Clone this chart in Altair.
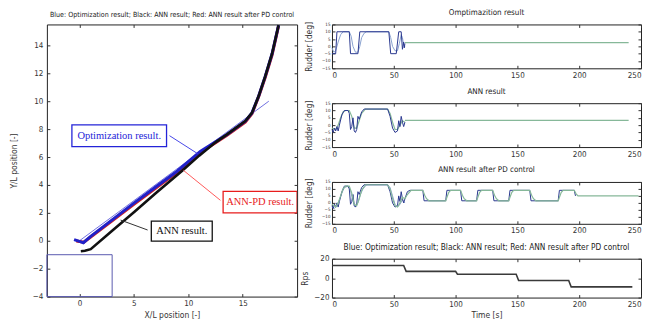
import altair as alt
import pandas as pd

SANS = "Liberation Sans Narrow, DejaVu Sans Condensed, Liberation Sans, Arial, sans-serif"
SERIF = "Liberation Serif, Times New Roman, serif"

# ---------------- left panel: trajectories ----------------
ref_x = [0.0, 17.4]
ref_y = [0.0, 10.0]
opt_x = [-0.5, 0.0, 0.35, 1.0, 3.0, 5.0, 7.0, 9.0, 11.1, 13.56, 15.24, 15.85, 16.46, 17.07, 17.7, 18.3]
opt_y = [0.08, -0.05, -0.14, 0.3, 1.5, 2.7, 3.85, 5.0, 6.4, 7.62, 8.57, 9.16, 10.35, 11.78, 13.4, 15.45]
ann_x = [0.12, 0.5, 1.03, 3.0, 5.0, 7.0, 9.44, 11.0, 12.5, 13.56, 15.24, 15.85, 16.46, 17.07, 17.7, 18.3]
ann_y = [-0.75, -0.72, -0.6, 0.72, 2.05, 3.4, 5.02, 6.1, 7.05, 7.62, 8.57, 9.16, 10.35, 11.78, 13.4, 15.45]
pd_x = [-0.3, 0.4, 1.0, 5.0, 9.0, 11.1, 13.56, 15.24, 15.85, 16.46, 17.07, 17.7, 18.3]
pd_y = [-0.02, -0.1, 0.25, 2.62, 4.92, 6.3, 7.55, 8.5, 9.1, 10.3, 11.7, 13.3, 15.4]

berth_x = [-3.0]
berth_x2 = [3.0]
berth_y = [-4.0]
berth_y2 = [-1.0]

ann_label = ["Optimization result.", "ANN-PD result.", "ANN result."]
ann_color = ["#2424d8", "#e81c1c", "#111111"]
ann_line_color = ["#4848e8", "#ff5a5a", "#333333"]
ann_box_x1 = [-0.7, 13.2, 6.6]
ann_box_x2 = [8.0, 20.0, 12.2]
ann_box_y1 = [6.75, 2.0, -0.02]
ann_box_y2 = [8.31, 3.54, 1.41]
ann_text_x = [3.65, 16.6, 9.4]
ann_text_y = [7.53, 2.77, 0.7]
lead_x1 = [8.27, 12.95, 6.26]
lead_y1 = [7.53, 2.9, 0.77]
lead_x2 = [10.84, 9.56, 3.78]
lead_y2 = [6.25, 5.04, 1.48]

x_ticks = [0, 5, 10, 15]
y_ticks = [-4, -2, 0, 2, 4, 6, 8, 10, 12, 14]

# ---------------- right panels: rudder / rps ----------------
cmd1_t = [0, 3, 4, 14, 15, 21, 22.5, 46, 47.5, 52, 54, 56, 57, 58, 58.5, 59]
cmd1_v = [-5, -5, 10, 10, -5, -5, 10, 10, -5, -5, 10, 10, -2, 3, -1, 2]
act1_t = [0, 1.5, 3, 5, 7, 9, 14, 15.5, 17, 19, 21, 22.5, 24, 26, 28, 46, 47.5, 49, 51, 53, 54.5, 56, 57, 58, 59]
act1_v = [-1, -4, -3, 3, 8, 10, 10, 7, 0, -4, -4, 0, 6, 9, 10, 10, 6, 0, -3, -3, 2, 8, 6, 1, 0]
hold1_t = [59, 240]
hold1_v = [2.5, 2.5]

cmd2_t = [0, 1, 2, 3, 4, 5, 6, 8, 10, 13, 14, 15, 16, 17, 18, 19, 20, 21, 22, 24, 26, 45, 47, 49, 51, 53, 54, 55, 56, 57, 58, 59]
cmd2_v = [-3, -5, -2, -4, -1, -4, 0, 7, 10, 10, 8, -3, -1, 5, -4, -5, -3, 6, 4, 9, 11, 11, 6, -2, -5, -4, 3, -1, 6, 2, -1, 2]
act2_t = [0, 3, 5, 7, 9, 11, 14, 16, 18, 20, 22, 24, 27, 45, 47, 49, 51, 53, 55, 57, 59]
act2_v = [-2, -3, 0, 5, 9, 10, 10, 6, -2, -2, 3, 8, 11, 11, 8, 2, -3, -3, 0, 3, 2]
hold2_t = [59, 240]
hold2_v = [3.3, 3.3]

cmd3_t = [0, 1, 2, 3, 4, 5, 6, 8, 10, 13, 14, 15, 16, 17, 18, 19, 20, 21, 22, 24, 26, 45, 47, 49, 51, 53, 54, 55, 56, 57, 58, 59,
          61, 63, 73.5, 74.5, 92, 93, 104, 105, 117, 118, 130, 131, 143, 144, 160, 161, 183, 184, 196, 197]
cmd3_v = [-2, -4, -1, -3, 0, -3, 1, 8, 12, 12, 10, -1, 1, 6, -2, -3, -1, 8, 6, 11, 13, 13, 8, 0, -3, -2, 5, 1, 8, 3, 0, 3,
          8, 9, 9, 1.5, 1.5, 9, 9, 1.5, 1.5, 9, 9, 1.5, 1.5, 9, 9, 1.5, 1.5, 9, 9, 5]
lt3_t = [0, 2, 4, 6, 8, 10, 13, 15, 17, 19, 21, 23, 25, 28, 45, 47, 49, 51, 53, 55, 57, 59]
lt3_v = [-3, -4, -2, 2, 7, 11, 12, 9, 1, -3, 0, 6, 10, 13, 13, 11, 5, -1, -3, -1, 2, 0]
act3_t = [0, 3, 5, 7, 9, 11, 14, 16, 18, 20, 22, 24, 27, 45, 47, 49, 51, 53, 55, 57, 59, 61, 64,
          73.5, 75, 76.5, 78.5, 92, 93, 94.5, 96, 104, 105.5, 107, 109, 117, 118, 119.5, 121,
          130, 131.5, 133, 135, 143, 144, 145.5, 147, 160, 161.5, 163, 165, 183, 184, 185.5, 187,
          196, 197.5, 199, 248]
act3_v = [-1, -3, 0, 5, 10, 12, 12, 7, -1, -2, 3, 9, 13, 13, 10, 3, -2, -3, 0, 4, 3, 6, 9,
          9, 5.5, 3, 1.5, 1.5, 4, 7.5, 9, 9, 5.5, 3, 1.5, 1.5, 4, 7.5, 9,
          9, 5.5, 3, 1.5, 1.5, 4, 7.5, 9, 9, 5.5, 3, 1.5, 1.5, 4, 7.5, 9,
          9, 6.5, 5, 5]

rps_t = [0, 58, 60, 100, 101.5, 149, 151, 191.5, 193.5, 243]
rps_v = [13, 13, 7, 7, 4, 4, -2.5, -2.5, -9, -9]

t_ticks = [0, 50, 100, 150, 200, 250]
rud_ticks = [-15, -10, -5, 0, 5, 10, 15]
rps_ticks = [-20, 0, 20]

C_CMD = "#2b3990"
C_ACT = "#8aa2cf"
C_HOLD = "#86b899"
FRAME = "#222222"


def mirror_ticks(xscale, yscale, xvals, yvals, x0, y0):
    """Invisible layer carrying the inward ticks of the top and right frame edges."""
    return alt.Chart(pd.DataFrame({"x": [x0], "y": [y0]})).mark_point(opacity=0).encode(
        x=alt.X("x:Q", scale=xscale, axis=alt.Axis(orient="top", values=xvals, labels=False, title=None,
                                                    offset=-3, tickSize=3)),
        y=alt.Y("y:Q", scale=yscale, axis=alt.Axis(orient="right", values=yvals, labels=False, title=None,
                                                    offset=-3, tickSize=3)),
    )


# ---------------- build left chart ----------------
xs = alt.Scale(domain=[-3, 20], nice=False, zero=False)
ys = alt.Scale(domain=[-4, 15.5], nice=False, zero=False)
x_axis = alt.Axis(values=x_ticks, title="X/L position [-]", offset=-3, tickSize=3,
                  labelPadding=3, titlePadding=3)
y_axis = alt.Axis(values=y_ticks, title="Y/L position [-]", offset=-3, tickSize=3,
                  labelPadding=4, titlePadding=14)


def line_df(xv, yv):
    return pd.DataFrame({"x": xv, "y": yv, "k": list(range(len(xv)))})


def traj(xv, yv, color, width):
    return alt.Chart(line_df(xv, yv)).mark_line(color=color, strokeWidth=width, clip=True).encode(
        x=alt.X("x:Q", scale=xs, axis=x_axis),
        y=alt.Y("y:Q", scale=ys, axis=y_axis),
        order="k:Q",
    )


berth = alt.Chart(pd.DataFrame({"x": berth_x, "x2": berth_x2, "y": berth_y, "y2": berth_y2})).mark_rect(
    filled=False, stroke="#5a5ab0", strokeWidth=1
).encode(x=alt.X("x:Q", scale=xs, axis=x_axis), x2="x2:Q", y=alt.Y("y:Q", scale=ys, axis=y_axis), y2="y2:Q")

ann_df = pd.DataFrame({
    "label": ann_label, "c": ann_color, "lc": ann_line_color,
    "bx1": ann_box_x1, "bx2": ann_box_x2, "by1": ann_box_y1, "by2": ann_box_y2,
    "tx": ann_text_x, "ty": ann_text_y,
    "lx1": lead_x1, "ly1": lead_y1, "lx2": lead_x2, "ly2": lead_y2,
})

leaders = alt.Chart(ann_df).mark_rule(strokeWidth=1).encode(
    x=alt.X("lx1:Q", scale=xs, axis=x_axis), x2="lx2:Q",
    y=alt.Y("ly1:Q", scale=ys, axis=y_axis), y2="ly2:Q",
    color=alt.Color("lc:N", scale=None),
)
boxes = alt.Chart(ann_df).mark_rect(fill="white", strokeWidth=1.3, clip=True).encode(
    x=alt.X("bx1:Q", scale=xs, axis=x_axis), x2="bx2:Q",
    y=alt.Y("by1:Q", scale=ys, axis=y_axis), y2="by2:Q",
    stroke=alt.Stroke("c:N", scale=None),
)
texts = alt.Chart(ann_df).mark_text(font=SERIF, fontSize=10.5).encode(
    x=alt.X("tx:Q", scale=xs, axis=x_axis),
    y=alt.Y("ty:Q", scale=ys, axis=y_axis),
    text="label:N",
    color=alt.Color("c:N", scale=None),
)

left_main = alt.layer(
    berth,
    traj(ref_x, ref_y, "#7070e0", 1),
    traj(pd_x, pd_y, "#d02020", 3),
    traj(opt_x, opt_y, "#2020c8", 3.0),
    traj(ann_x, ann_y, "#111111", 2.6),
    leaders, boxes, texts,
)
left = alt.layer(
    left_main, mirror_ticks(xs, ys, x_ticks, y_ticks, 0, 0)
).resolve_axis(x="independent", y="independent").properties(
    width=251, height=273,
    title=alt.TitleParams("Blue: Optimization result; Black: ANN result; Red: ANN result after PD control",
                          fontSize=7.1, offset=6),
)

# ---------------- build right panels ----------------
ts = alt.Scale(domain=[0, 250], nice=False, zero=False)
rud_scale = alt.Scale(domain=[-15, 15], nice=False, zero=False)
rps_scale = alt.Scale(domain=[-20, 20], nice=False, zero=False)


def t_axis(title=None):
    return alt.Axis(values=t_ticks, offset=-3, tickSize=3, labelPadding=3, titlePadding=2, title=title)


rud_axis = alt.Axis(values=rud_ticks, title="Rudder  [deg]", offset=-3, tickSize=3, labelPadding=2,
                    labelFontSize=4.5, titlePadding=8)
rps_axis = alt.Axis(values=rps_ticks, title="Rps", offset=-3, tickSize=3, labelPadding=3, titlePadding=4)


def series(t, v, color, scale, axis, xaxis, w=1.0):
    df = pd.DataFrame({"t": t, "v": v, "k": list(range(len(t)))})
    return alt.Chart(df).mark_line(color=color, strokeWidth=w).encode(
        x=alt.X("t:Q", scale=ts, axis=xaxis),
        y=alt.Y("v:Q", scale=scale, axis=axis),
        order="k:Q",
    )


def panel(title, layers, h, yscale, yvals, fs=8):
    return alt.layer(
        alt.layer(*layers), mirror_ticks(ts, yscale, t_ticks, yvals, 0, 0)
    ).resolve_axis(x="independent", y="independent").properties(
        width=310, height=h, title=alt.TitleParams(title, fontSize=fs, offset=3)
    )


xa = t_axis()
p1 = panel("Omptimazition result", [
    series(act1_t, act1_v, C_ACT, rud_scale, rud_axis, xa),
    series(cmd1_t, cmd1_v, C_CMD, rud_scale, rud_axis, xa),
    series(hold1_t, hold1_v, C_HOLD, rud_scale, rud_axis, xa, 1.3),
], 44, rud_scale, rud_ticks)
p2 = panel("ANN result", [
    series(act2_t, act2_v, C_HOLD, rud_scale, rud_axis, xa, 1.2),
    series(cmd2_t, cmd2_v, C_CMD, rud_scale, rud_axis, xa),
    series(hold2_t, hold2_v, C_HOLD, rud_scale, rud_axis, xa, 1.3),
], 44, rud_scale, rud_ticks)
p3 = panel("ANN result after PD control", [
    series(lt3_t, lt3_v, C_ACT, rud_scale, rud_axis, xa),
    series(cmd3_t, cmd3_v, C_CMD, rud_scale, rud_axis, xa),
    series(act3_t, act3_v, C_HOLD, rud_scale, rud_axis, xa, 1.2),
], 42, rud_scale, rud_ticks)
p4 = panel("Blue: Optimization result; Black: ANN result; Red: ANN result after PD control", [
    series(rps_t, rps_v, "#3a3a3a", rps_scale, rps_axis, t_axis("Time [s]"), 1.6),
], 39, rps_scale, rps_ticks, 8.3)

right = alt.vconcat(p1, p2, p3, p4, spacing=35, bounds="flush")

chart = alt.hconcat(left, right, spacing=35, bounds="flush").properties(
    padding=0
).configure_view(
    stroke=FRAME, strokeWidth=1
).configure_axis(
    grid=False, domain=False, labelFont=SANS, titleFont=SANS, labelFontSize=8, titleFontSize=8.5,
    labelColor="#333333", titleColor="#333333", titleFontWeight="normal", tickColor="#333333",
).configure_title(
    font=SANS, fontSize=8, fontWeight="normal", color="#222222", anchor="middle"
)

chart.save("out.html", embed_options={"renderer": "svg", "actions": False})
